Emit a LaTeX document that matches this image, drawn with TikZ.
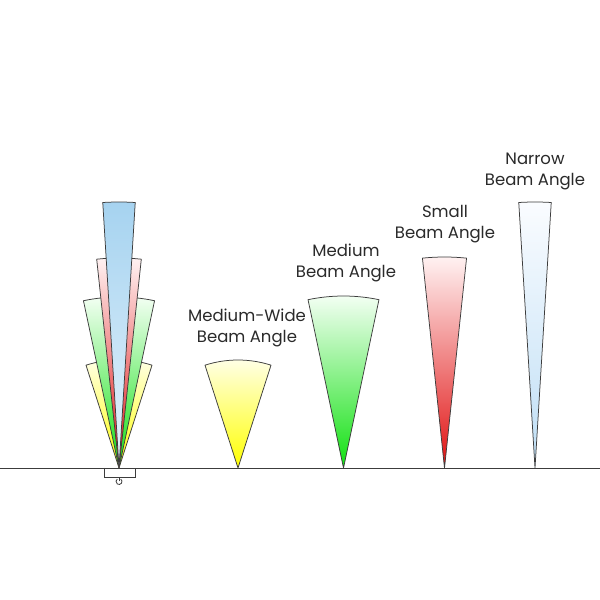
\documentclass[tikz,border=0pt]{standalone}
\usepackage{fontspec}
\setmainfont{Poppins}
\usetikzlibrary{calc}
\definecolor{outl}{HTML}{3C3C3C}
\definecolor{txt}{HTML}{2A2A2A}
\definecolor{yelB}{HTML}{FFFF00}
\definecolor{yelT}{HTML}{FFFFE8}
\definecolor{grnB}{HTML}{10E010}
\definecolor{grnT}{HTML}{F4FFF4}
\definecolor{redB}{HTML}{E01010}
\definecolor{redT}{HTML}{FFF2F2}
\definecolor{bluB}{HTML}{BEDEF5}
\definecolor{bluT}{HTML}{FAFCFF}
\definecolor{lbluT}{HTML}{A6D3F0}
\definecolor{lbluB}{HTML}{E4F2FB}
\newcommand\beamcone[5]{%
  \path[draw=outl, line width=0.75pt, line join=round, top color=#4, middle color=#5!60!#4, bottom color=#5]
    (#1) -- ++(90+#3:#2) arc[start angle=90+#3, end angle=90-#3, radius=#2] -- cycle;}
\tikzset{lbl/.style={align=center, text=txt, font=\fontsize{16.5}{21.5}\selectfont}}
\begin{document}
\begin{tikzpicture}[x=1pt,y=1pt]
\useasboundingbox (0,0) rectangle (600,600);
\fill[white] (0,0) rectangle (600,600);
% apexes
\coordinate (fix) at (119,132);
\coordinate (mw) at (238,132);
\coordinate (md) at (343.5,132);
\coordinate (sm) at (444.5,132);
\coordinate (nr) at (535,132);
% fixture cones
\beamcone{fix}{108}{17.8}{yelT}{yelB}
\beamcone{fix}{171}{12}{grnT}{grnB}
\beamcone{fix}{210}{6.1}{redT}{redB}
\beamcone{fix}{266}{3.5}{lbluT}{lbluB}
% separate cones
\beamcone{mw}{108}{17.8}{yelT}{yelB}
\beamcone{md}{172}{11.9}{grnT}{grnB}
\beamcone{sm}{211}{6}{redT}{redB}
\beamcone{nr}{266}{3.5}{bluT}{bluB}
% ground
\draw[outl, line width=0.9pt] (0,132) -- (600,132);
% fixture base
\draw[outl, line width=0.7pt] (104,132) -- (104,123) -- (135,123) -- (135,132);
\coordinate (pw) at (119,118.5);
\draw[outl, line width=0.8pt] ($(pw)+(55:3)$) arc[start angle=55, end angle=-235, radius=3];
\draw[outl, line width=0.8pt] (pw) -- ++(0,3.6);
% labels
\node[lbl] (lmw) at (247,272) {Medium-Wide\\Beam Angle};
\node[lbl] (lmd) at (346,337) {Medium\\Beam Angle};
\node[lbl] (lsm) at (445,376) {Small\\Beam Angle};
\node[lbl] (lnr) at (535,428.5) {Narrow\\Beam Angle};
\end{tikzpicture}
\end{document}
